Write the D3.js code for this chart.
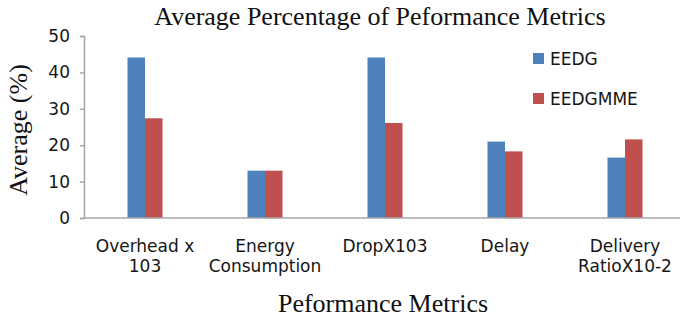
<!DOCTYPE html>
<html>
<head>
<meta charset="utf-8">
<script src="https://cdn.jsdelivr.net/npm/d3@7/dist/d3.min.js"></script>
<style>
  html, body { margin: 0; padding: 0; background: #fff; }
  svg { display: block; }
</style>
</head>
<body>
<svg id="chart" width="680" height="320"></svg>
<script>
// Performance metrics compared for the two protocols
const categories = [
  ["Overhead x", "103"],
  ["Energy", "Consumption"],
  ["DropX103"],
  ["Delay"],
  ["Delivery", "RatioX10-2"]
];
const seriesNames = ["EEDG", "EEDGMME"];
const eedg = [44.1, 13, 44.1, 21, 16.6];
const eedgmme = [27.4, 13, 26.1, 18.3, 21.6];
const yTicks = [0, 10, 20, 30, 40, 50];
const colors = ["#4F81BD", "#C0504D"];

const svg = d3.select("#chart");
const catKeys = categories.map(c => c.join(" "));
const values = [eedg, eedgmme];

const x0 = d3.scaleBand().domain(catKeys).range([85, 685]).padding(0);
const groupW = 35;
const x1 = d3.scaleBand().domain(seriesNames)
  .range([x0.bandwidth() / 2 - groupW / 2, x0.bandwidth() / 2 + groupW / 2]);
const y = d3.scaleLinear().domain([0, 50]).range([218, 36]);

const axisColor = "#A6A6A6";
const sans = "DejaVu Sans, sans-serif";
const serif = "Liberation Serif, serif";
const textColor = "#151515";

// Bars
catKeys.forEach((k, i) => {
  seriesNames.forEach((s, j) => {
    svg.append("rect")
      .attr("x", x0(k) + x1(s))
      .attr("y", y(values[j][i]))
      .attr("width", x1.bandwidth())
      .attr("height", y(0) - y(values[j][i]))
      .attr("fill", colors[j]);
  });
});

// Y axis
const yAxis = svg.append("g")
  .attr("transform", "translate(84,0)")
  .call(d3.axisLeft(y).tickValues(yTicks).tickSize(4).tickPadding(10).tickFormat(d3.format("d")));
yAxis.select(".domain").attr("stroke", axisColor).attr("stroke-width", 1.5);
yAxis.selectAll(".tick line").attr("stroke", axisColor).attr("stroke-width", 1.5);
yAxis.selectAll(".tick text")
  .attr("fill", textColor).attr("font-family", sans).attr("font-size", 17);

// X axis line
const xAxis = svg.append("g")
  .attr("transform", "translate(0,218)")
  .call(d3.axisBottom(x0).tickSize(0).tickFormat(""));
xAxis.select(".domain").attr("stroke", axisColor).attr("stroke-width", 1.5)
  .attr("d", "M84,0H680");

// Category labels (wrapped onto two lines where needed)
categories.forEach((lines, i) => {
  const cx = x0(catKeys[i]) + x0.bandwidth() / 2;
  const t = svg.append("text")
    .attr("x", cx).attr("y", 252)
    .attr("text-anchor", "middle")
    .attr("font-family", sans).attr("font-size", 17).attr("fill", textColor);
  lines.forEach((ln, li) => {
    t.append("tspan").attr("x", cx).attr("dy", li === 0 ? 0 : 20).text(ln);
  });
});

// Title
svg.append("text")
  .attr("x", 380).attr("y", 25)
  .attr("text-anchor", "middle")
  .attr("font-family", serif).attr("font-size", 26).attr("fill", "#111")
  .text("Average Percentage of Peformance Metrics");

// Axis titles
svg.append("text")
  .attr("x", 383).attr("y", 312)
  .attr("text-anchor", "middle")
  .attr("font-family", serif).attr("font-size", 26).attr("fill", "#111")
  .text("Peformance Metrics");

svg.append("text")
  .attr("transform", "translate(27,130) rotate(-90)")
  .attr("text-anchor", "middle")
  .attr("font-family", serif).attr("font-size", 26).attr("fill", "#111")
  .text("Average (%)");

// Legend
const legend = svg.append("g");
seriesNames.forEach((s, j) => {
  const ly = 59 + j * 40;
  legend.append("rect")
    .attr("x", 533).attr("y", ly - 6).attr("width", 11).attr("height", 11)
    .attr("fill", colors[j]);
  legend.append("text")
    .attr("x", 550).attr("y", ly + 6)
    .attr("font-family", sans).attr("font-size", 17).attr("fill", textColor)
    .text(s);
});
</script>
</body>
</html>
